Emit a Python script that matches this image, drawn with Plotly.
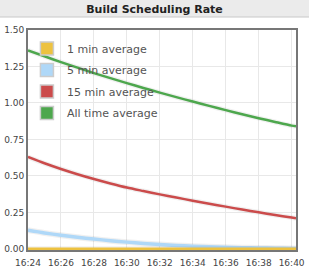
import plotly.graph_objects as go

# ---- data ----
times = ["2013-01-01 16:%02d:00" % m for m in range(24, 41)] + ["2013-01-01 16:40:16"]
one_min = [0.0] * 18
five_min = [0.128, 0.11, 0.094, 0.08, 0.068, 0.057, 0.047, 0.038, 0.03, 0.024,
            0.019, 0.015, 0.012, 0.009, 0.007, 0.005, 0.004, 0.004]
fifteen_min = [0.63, 0.587, 0.548, 0.512, 0.479, 0.449, 0.421, 0.397, 0.374, 0.352,
               0.331, 0.31, 0.29, 0.27, 0.251, 0.233, 0.215, 0.21]
all_time = [1.36, 1.32, 1.28, 1.242, 1.205, 1.17, 1.136, 1.103, 1.071, 1.04,
            1.01, 0.98, 0.951, 0.923, 0.896, 0.87, 0.845, 0.84]

series_names = ["1 min average", "5 min average", "15 min average", "All time average"]
series_values = [one_min, five_min, fifteen_min, all_time]
colors = ["#edc240", "#afd8f8", "#cb4b4b", "#4da74d"]
title_text = "Build Scheduling Rate"

fig = go.Figure()

# soft shadow + line for each series (draw order: green, red, blue, yellow on top)
for name, vals, col, w in reversed(list(zip(series_names, series_values, colors, [3, 3.5, 2.5, 2.5]))):
    fig.add_trace(go.Scatter(x=times, y=vals, mode="lines", name=name,
                             line=dict(color="rgba(0,0,0,0.06)", width=w + 2.5, shape="spline", smoothing=0.8),
                             showlegend=False, hoverinfo="skip"))
    fig.add_trace(go.Scatter(x=times, y=vals, mode="lines", name=name,
                             line=dict(color=col, width=w, shape="spline", smoothing=0.8),
                             showlegend=False, hoverinfo="skip"))

# legend entries
for i, (name, col) in enumerate(zip(series_names, colors)):
    fig.add_trace(go.Scatter(x=[None], y=[None], mode="markers", name=name,
                             legendgroup=str(i),
                             marker=dict(symbol="square", size=13, color=col,
                                         line=dict(color="#cccccc", width=1.5))))

# title bar background
fig.add_shape(type="rect", xref="paper", yref="paper", x0=-0.2, x1=1.2,
              y0=233 / 220, y1=1.2, fillcolor="#ebebeb", line=dict(width=0), layer="below")
fig.add_shape(type="line", xref="paper", yref="paper", x0=-0.2, x1=1.2,
              y0=233 / 220, y1=233 / 220, line=dict(color="#c8c8c8", width=1))

fig.update_layout(
    width=309, height=271,
    margin=dict(l=28, r=13, t=30, b=21),
    paper_bgcolor="white", plot_bgcolor="white",
    title=dict(text="<b>%s</b>" % title_text, x=0.5, xref="container", xanchor="center",
               y=1 - 9 / 271, yref="container", yanchor="middle",
               font=dict(family="DejaVu Sans", size=11, color="#222222")),
    font=dict(family="DejaVu Sans", size=9, color="#444444"),
    showlegend=True,
    legend=dict(x=-0.004, y=0.982, xanchor="left", yanchor="top",
                bgcolor="rgba(255,255,255,0)", borderwidth=0,
                font=dict(family="DejaVu Sans", size=11, color="#545454"),
                tracegroupgap=2.5),
    xaxis=dict(range=["2013-01-01 16:24:00", "2013-01-01 16:40:16"],
               tickformat="%H:%M", dtick=120000, tick0="2013-01-01 16:24:00",
               showgrid=True, gridcolor="#e8e8e8", gridwidth=1,
               showline=True, mirror=True, linecolor="#777777", linewidth=2,
               zeroline=False, ticks="", layer="below traces", automargin=False,
               ticklabelstandoff=3),
    yaxis=dict(range=[-0.007, 1.5], dtick=0.25, tickformat=".2f",
               showgrid=True, gridcolor="#e8e8e8", gridwidth=1,
               showline=True, mirror=True, linecolor="#777777", linewidth=2,
               zeroline=False, ticks="", layer="below traces", automargin=False),
)

fig.write_html("out.html")
